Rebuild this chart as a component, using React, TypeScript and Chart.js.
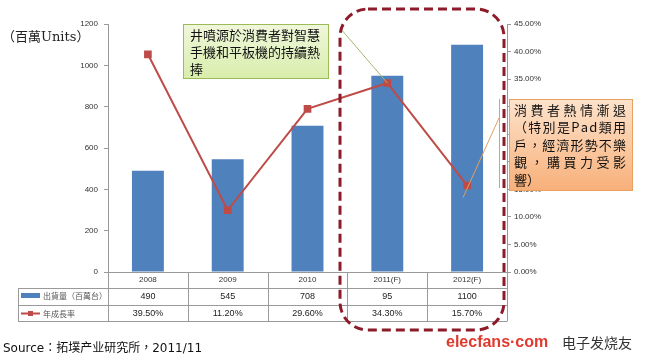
import React, { useEffect, useRef } from "react";
import { Chart, registerables } from "chart.js";

Chart.register(...registerables);

const categories = ["2008", "2009", "2010", "2011(F)", "2012(F)"];
const shipments = [490, 545, 708, 950, 1100];
const shipmentLabels = ["490", "545", "708", "95", "1100"];
const growth = [39.5, 11.2, 29.6, 34.3, 15.7];
const growthLabels = ["39.50%", "11.20%", "29.60%", "34.30%", "15.70%"];
const shipmentName = "出貨量（百萬台）";
const growthName = "年成長率";
const unitTitle = "（百萬Units）";
const note1 = ["井噴源於消費者對智慧", "手機和平板機的持續熱", "捧"];
const note2 = ["消費者熱情漸退", "（特別是Pad類用", "戶，經濟形勢不樂", "觀，購買力受影", "響）"];
const sourceText = "Source：拓墣产业研究所，2011/11";

const BAR = "#4F81BD";
const LINE = "#BE4B48";
const CJK = '"Noto Sans CJK TC", "Noto Sans CJK SC", sans-serif';

function roundRect(ctx: CanvasRenderingContext2D, x: number, y: number, w: number, h: number, r: number) {
  ctx.beginPath();
  ctx.moveTo(x + r, y);
  ctx.lineTo(x + w - r, y);
  ctx.arcTo(x + w, y, x + w, y + r, r);
  ctx.lineTo(x + w, y + h - r);
  ctx.arcTo(x + w, y + h, x + w - r, y + h, r);
  ctx.lineTo(x + r, y + h);
  ctx.arcTo(x, y + h, x, y + h - r, r);
  ctx.lineTo(x, y + r);
  ctx.arcTo(x, y, x + r, y, r);
  ctx.closePath();
}

function justified(ctx: CanvasRenderingContext2D, text: string, x: number, y: number, width: number) {
  const chars = Array.from(text);
  const widths = chars.map((c) => ctx.measureText(c).width);
  const total = widths.reduce((a, b) => a + b, 0);
  const gap = chars.length > 1 ? Math.max(0, (width - total) / (chars.length - 1)) : 0;
  let cx = x;
  chars.forEach((c, i) => {
    ctx.fillText(c, cx, y);
    cx += widths[i] + gap;
  });
}

const overlay = {
  id: "overlay",
  afterDraw(chart: any) {
    const ctx: CanvasRenderingContext2D = chart.ctx;
    const xs = chart.scales.x;
    const y1 = chart.scales.y1;
    const area = chart.chartArea;
    const step = (area.right - area.left) / categories.length;
    ctx.save();

    // data table
    ctx.strokeStyle = "#9a9a9a";
    ctx.lineWidth = 1;
    const rowTop = 288.5, rowMid = 305.5, rowBot = 321.5;
    ctx.beginPath();
    [rowTop, rowMid, rowBot].forEach((yy) => {
      ctx.moveTo(18, yy);
      ctx.lineTo(area.right, yy);
    });
    ctx.moveTo(18.5, rowTop);
    ctx.lineTo(18.5, rowBot);
    for (let i = 0; i <= categories.length; i++) {
      const xx = Math.round(area.left + i * step) + 0.5;
      ctx.moveTo(xx, area.bottom);
      ctx.lineTo(xx, rowBot);
    }
    ctx.stroke();

    ctx.fillStyle = "#222";
    ctx.font = '9px "Liberation Sans", Arial, sans-serif';
    ctx.textAlign = "center";
    ctx.textBaseline = "middle";
    categories.forEach((_, i) => {
      const cx = xs.getPixelForValue(i);
      ctx.fillText(shipmentLabels[i], cx, 297);
      ctx.fillText(growthLabels[i], cx, 313.5);
    });

    // legend keys in table
    ctx.fillStyle = BAR;
    ctx.fillRect(21, 293, 19, 5);
    ctx.strokeStyle = LINE;
    ctx.lineWidth = 2;
    ctx.beginPath();
    ctx.moveTo(21, 313.5);
    ctx.lineTo(40, 313.5);
    ctx.stroke();
    ctx.fillStyle = LINE;
    ctx.fillRect(28, 311, 5, 5);
    ctx.fillStyle = "#555";
    ctx.font = "8px " + CJK;
    ctx.textAlign = "left";
    ctx.fillText(shipmentName, 43, 296);
    ctx.fillText(growthName, 43, 313.5);

    // unit title
    ctx.fillStyle = "#222";
    ctx.font = '13px "DejaVu Serif", ' + CJK;
    ctx.textAlign = "left";
    ctx.fillText(unitTitle, 2, 38);

    // green note
    const p2011x = xs.getPixelForValue(3);
    const p2011y = y1.getPixelForValue(growth[3]);
    ctx.strokeStyle = "#a3b86c";
    ctx.lineWidth = 1;
    ctx.beginPath();
    ctx.moveTo(340, 28);
    ctx.lineTo(p2011x, p2011y);
    ctx.stroke();
    let g = ctx.createLinearGradient(0, 24, 0, 78);
    g.addColorStop(0, "#F0F7DC");
    g.addColorStop(1, "#D9EDAC");
    ctx.fillStyle = g;
    ctx.fillRect(183, 24, 145, 54);
    ctx.strokeStyle = "#9BBB59";
    ctx.strokeRect(183.5, 24.5, 145, 54);
    ctx.fillStyle = "#111";
    ctx.font = "13px " + CJK;
    ctx.textAlign = "left";
    note1.forEach((t, i) => ctx.fillText(t, 190, 35 + i * 17));

    // orange note
    const p2012x = xs.getPixelForValue(4);
    const p2012y = y1.getPixelForValue(growth[4]);
    ctx.strokeStyle = "#E0A060";
    ctx.lineWidth = 1;
    ctx.beginPath();
    ctx.moveTo(499, 118);
    ctx.lineTo(p2012x - 4, p2012y + 12);
    ctx.moveTo(499.5, 99);
    ctx.lineTo(499.5, 188);
    ctx.stroke();
    g = ctx.createLinearGradient(0, 99, 0, 190);
    g.addColorStop(0, "#FDE3CC");
    g.addColorStop(1, "#F8B07A");
    ctx.fillStyle = g;
    ctx.fillRect(509, 99, 123, 91);
    ctx.strokeStyle = "#E8A060";
    ctx.strokeRect(509.5, 99.5, 123, 91);
    ctx.fillStyle = "#111";
    ctx.font = "13px " + CJK;
    note2.forEach((t, i) => {
      if (i < note2.length - 1) justified(ctx, t, 514, 110 + i * 17.5, 112);
      else ctx.fillText(t, 514, 110 + i * 17.5);
    });

    // dashed highlight frame
    ctx.strokeStyle = "#8E1B2A";
    ctx.lineWidth = 3;
    ctx.setLineDash([9, 5]);
    roundRect(ctx, 340, 9, 164, 321, 28);
    ctx.stroke();
    ctx.setLineDash([]);

    // source
    ctx.fillStyle = "#111";
    ctx.font = '12px "DejaVu Sans", ' + CJK;
    ctx.textAlign = "left";
    ctx.fillText(sourceText, 3, 349);

    // logo
    ctx.font = 'bold 16px "Liberation Sans Narrow", "Liberation Sans", Arial, sans-serif';
    ctx.fillStyle = "#E03A2E";
    ctx.fillText("elecfans", 446, 343);
    const w = ctx.measureText("elecfans").width;
    ctx.fillText("·com", 446 + w, 343);
    ctx.fillStyle = "#333";
    ctx.font = "14px " + CJK;
    ctx.fillText("电子发烧友", 562, 343);

    ctx.restore();
  },
};

export default function App() {
  const ref = useRef<HTMLCanvasElement>(null);
  useEffect(() => {
    document.body.style.margin = "0";
    const tickFont = { size: 8, family: '"Liberation Sans", Arial' };
    const chart = new Chart(ref.current!, {
      type: "bar",
      data: {
        labels: categories,
        datasets: [
          {
            type: "line",
            label: growthName,
            data: growth,
            yAxisID: "y1",
            borderColor: LINE,
            backgroundColor: LINE,
            borderWidth: 2,
            pointStyle: "rect",
            pointRadius: 4,
            tension: 0,
            order: 0,
          } as any,
          {
            type: "bar",
            label: shipmentName,
            data: shipments,
            yAxisID: "y",
            backgroundColor: BAR,
            categoryPercentage: 0.8,
            barPercentage: 0.5,
            order: 1,
          },
        ],
      },
      options: {
        responsive: false,
        animation: false,
        layout: { padding: { top: 24, left: 0, right: 0, bottom: 0 } },
        plugins: { legend: { display: false }, tooltip: { enabled: false } },
        scales: {
          x: {
            grid: { display: false, drawTicks: false },
            border: { color: "#999" },
            ticks: { font: tickFont, color: "#333", padding: 3 },
            afterFit: (s: any) => { s.height = 87; },
          },
          y: {
            position: "left",
            min: 0,
            max: 1200,
            ticks: { stepSize: 200, font: tickFont, color: "#333", padding: 6, callback: (v: any) => String(v) },
            grid: { drawOnChartArea: false, tickLength: 4, color: "#999" },
            border: { color: "#999" },
            afterFit: (s: any) => { s.width = 108; },
          },
          y1: {
            position: "right",
            min: 0,
            max: 45,
            ticks: {
              stepSize: 5,
              font: tickFont,
              color: "#333",
              padding: 3,
              callback: (v: any) => Number(v).toFixed(2) + "%",
            },
            grid: { drawOnChartArea: false, tickLength: 4, color: "#999" },
            border: { color: "#999" },
            afterFit: (s: any) => { s.width = 143; },
          },
        },
      },
      plugins: [overlay],
    });
    return () => chart.destroy();
  }, []);
  return <canvas ref={ref} width={650} height={359} style={{ display: "block" }} />;
}
